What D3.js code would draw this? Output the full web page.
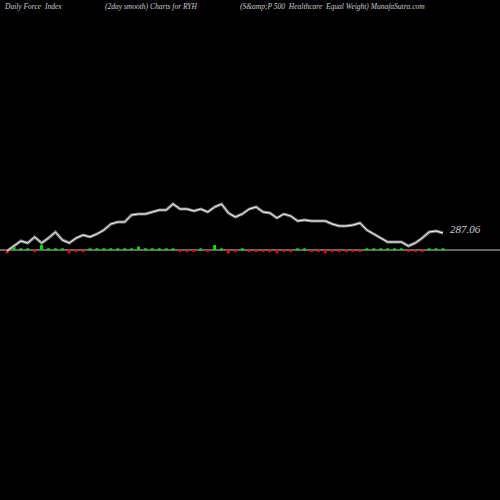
<!DOCTYPE html><html><head><script src="https://cdn.jsdelivr.net/npm/d3@7"></script>
<style>body{margin:0;background:#000}</style></head><body><svg id="c" width="500" height="500"></svg>
<script>
const closes=[278.06,280.56,283.06,282.06,285.06,282.06,284.56,287.56,283.56,282.06,284.56,286.06,285.06,286.56,288.56,291.56,292.56,292.56,296.06,296.56,296.56,297.56,298.56,298.56,301.56,299.06,299.06,298.06,299.06,297.56,300.06,301.56,297.06,295.06,296.56,299.06,300.06,297.56,297.06,294.56,296.56,295.56,293.06,293.56,293.06,293.06,293.06,291.56,290.56,290.56,291.06,292.06,288.56,286.56,284.56,282.56,282.56,282.56,280.56,282.06,284.56,287.56,288.06,287.06];
const force=[-2,2,1,1,0,3,1,1,1,-2,-1,-1,1,1,1,1,1,1,1,2,1,1,1,1,1,-1,-1,-1,1,-1,3,1,-2,-1,1,-1,-1,-1,-1,-2,-1,-1,1,1,-1,-1,-2,-1,-1,-1,-1,-1,1,1,1,1,1,1,-1,-1,-1,1,1,1];
const lastLabel="287.06";
const svg=d3.select("#c");
svg.append("rect").attr("width",500).attr("height",500).attr("fill","#000");
const idx=d3.range(closes.length);
const x=d3.scalePoint().domain(idx).range([7,443]);
const y=d3.scaleLinear().domain([287.06,301.56]).range([233,204]);
const yf=d3.scaleLinear().domain([-3,3]).range([255,245]);
svg.append("line").attr("x1",0).attr("x2",500).attr("y1",250).attr("y2",250).attr("stroke","#888").attr("stroke-width",1.5);
svg.selectAll(".f").data(force).join("rect").attr("x",(d,i)=>x(i)-1.5).attr("width",3)
 .attr("y",d=>d>0?yf(d):250).attr("height",d=>Math.max(2,Math.abs(yf(d)-250)))
 .attr("fill",d=>d>0?"#00dd00":"#ee0000");
const line=d3.line().x((d,i)=>x(i)).y(d=>y(d));
svg.append("path").datum(closes).attr("d",line).attr("fill","none").attr("stroke","#777").attr("stroke-width",3);
svg.append("path").datum(closes).attr("d",line).attr("fill","none").attr("stroke","#fff").attr("stroke-width",1);
svg.append("text").attr("x",450).attr("y",233).text(lastLabel).attr("fill","#ccc").attr("font-family","Liberation Serif").attr("font-style","italic").attr("font-size",11);
const hdr=[["Daily Force  Index",5],["(2day smooth) Charts for RYH",105],["(S&amp;P 500  Healthcare  Equal Weight) MunafaSutra.com",240]];
svg.selectAll(".h").data(hdr).join("text").attr("x",d=>d[1]).attr("y",9).text(d=>d[0]).attr("fill","#ccc").attr("font-family","Liberation Serif").attr("font-style","italic").attr("font-size",7.5).style("white-space","pre");
</script></body></html>
